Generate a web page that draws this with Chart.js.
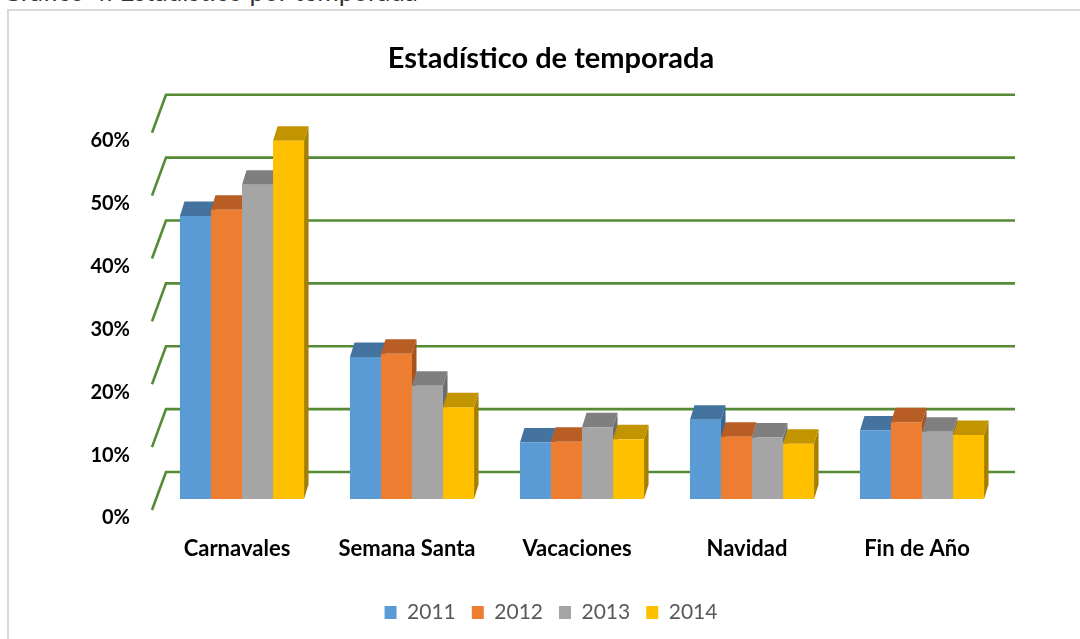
<!DOCTYPE html>
<html>
<head>
<meta charset="utf-8">
<script src="https://cdn.jsdelivr.net/npm/chart.js@4.4.1/dist/chart.umd.min.js"></script>
<style>
  html, body { margin: 0; padding: 0; width: 1080px; height: 639px; overflow: hidden; background: #fff; }
  #frame { position: absolute; left: 7px; top: 9px; width: 1120px; height: 700px; border: 2px solid #D9D9D9; }
  #caption { position: absolute; left: 2px; top: -25px; font: 26px Lato, sans-serif; color: #333; white-space: nowrap; }
  #wrap { position: absolute; left: 0; top: 0; width: 1080px; height: 639px; }
</style>
</head>
<body>
<div id="caption">Gráfico 4: Estadístico por temporada</div>
<div id="frame"></div>
<div id="wrap"><canvas id="chart" width="1080" height="639"></canvas></div>
<script>
const categories = ["Carnavales", "Semana Santa", "Vacaciones", "Navidad", "Fin de Año"];
const years = ["2011", "2012", "2013", "2014"];
const values2011 = [45, 22.6, 9.0, 12.6, 10.9];
const values2012 = [46, 23.1, 9.1, 9.9, 12.2];
const values2013 = [50, 18.0, 11.4, 9.8, 10.7];
const values2014 = [57, 14.6, 9.5, 8.8, 10.2];
const yTicks = [0, 10, 20, 30, 40, 50, 60];

const frontColors = ["#5B9BD5", "#ED7D31", "#A5A5A5", "#FFC000"];
const topColors = ["#44739F", "#B85E24", "#7F7F7F", "#C29400"];
const sideColors = ["#3B6690", "#A4521E", "#6C6C6C", "#A67E00"];

const FONT = "Lato, 'Open Sans', sans-serif";
const DEPTH_X = 4.5, DEPTH_Y = 14.5; // bar depth
const WALL_X = 9, WALL_Y = -27;      // back wall offset from bar plane
const FLOOR_DX = -14, FLOOR_DY = 38; // back wall -> front edge

// fake 3d: back wall grid, then side + top faces behind the front faces
const bars3d = {
  id: "bars3d",
  beforeDatasetsDraw(chart) {
    const { ctx, chartArea, scales } = chart;
    const y = scales.y;
    ctx.save();
    ctx.strokeStyle = "#558B36";
    ctx.lineWidth = 2.6;
    yTicks.forEach((v) => {
      const yb = y.getPixelForValue(v) + WALL_Y;
      const xb = chartArea.left + WALL_X;
      ctx.beginPath();
      ctx.moveTo(xb + FLOOR_DX, yb + FLOOR_DY);
      ctx.lineTo(xb, yb);
      ctx.lineTo(chartArea.right + 8, yb);
      ctx.stroke();
    });

    const metas = chart.data.datasets.map((d, i) => chart.getDatasetMeta(i));
    // side faces first
    metas.forEach((meta, di) => {
      meta.data.forEach((el) => {
        const p = el.getProps(["x", "y", "base", "width"], true);
        const x1 = p.x + p.width / 2;
        ctx.fillStyle = sideColors[di];
        ctx.beginPath();
        ctx.moveTo(x1, p.y);
        ctx.lineTo(x1 + DEPTH_X, p.y - DEPTH_Y);
        ctx.lineTo(x1 + DEPTH_X, p.base - DEPTH_Y);
        ctx.lineTo(x1, p.base);
        ctx.closePath();
        ctx.fill();
      });
    });
    // then top faces
    metas.forEach((meta, di) => {
      meta.data.forEach((el) => {
        const p = el.getProps(["x", "y", "base", "width"], true);
        const x0 = p.x - p.width / 2, x1 = p.x + p.width / 2;
        ctx.fillStyle = topColors[di];
        ctx.beginPath();
        ctx.moveTo(x0, p.y);
        ctx.lineTo(x1, p.y);
        ctx.lineTo(x1 + DEPTH_X, p.y - DEPTH_Y);
        ctx.lineTo(x0 + DEPTH_X, p.y - DEPTH_Y);
        ctx.closePath();
        ctx.fill();
      });
    });
    ctx.restore();
  },
};

new Chart(document.getElementById("chart"), {
  type: "bar",
  data: {
    labels: categories,
    datasets: [values2011, values2012, values2013, values2014].map((vals, i) => ({
      label: years[i],
      data: vals,
      backgroundColor: frontColors[i],
      borderWidth: 0,
      categoryPercentage: 0.73,
      barPercentage: 1.0,
    })),
  },
  options: {
    responsive: false,
    animation: false,
    // left axis 107 + right spacer 45 keep the plot at 157..1007 and the title centred near 551
    layout: { padding: { left: 50, right: 28, top: 8, bottom: 6 } },
    plugins: {
      title: {
        display: true,
        text: "Estadístico de temporada",
        color: "#000",
        font: { family: FONT, size: 29, weight: "bold", lineHeight: 1.2 },
        padding: { top: 33, bottom: 46 },
      },
      legend: {
        position: "bottom",
        labels: {
          color: "#595959",
          font: { family: FONT, size: 21 },
          boxWidth: 12,
          boxHeight: 13,
          padding: 16,
        },
      },
      tooltip: { enabled: false },
    },
    scales: {
      x: {
        grid: { display: false, drawTicks: false, tickLength: 0 },
        border: { display: false },
        ticks: {
          color: "#000",
          font: { family: FONT, size: 22, weight: "bold" },
          padding: 37,
          labelOffset: -5,
          maxRotation: 0,
        },
        afterFit: (scale) => { scale.height = 87; },
      },
      y: {
        min: 0,
        max: 60,
        grid: { display: false, drawTicks: false, tickLength: 0 },
        border: { display: false },
        ticks: {
          stepSize: 10,
          color: "#000",
          font: { family: FONT, size: 20, weight: "bold" },
          padding: 27,
          labelOffset: 19,
          callback: (v) => v + "%",
        },
        afterFit: (scale) => { scale.width = 107; },
      },
      spacer: {
        position: "right",
        grid: { display: false, drawTicks: false },
        border: { display: false },
        ticks: { display: false },
        afterFit: (scale) => { scale.width = 45; },
      },
    },
  },
  plugins: [bars3d],
});
</script>
</body>
</html>
